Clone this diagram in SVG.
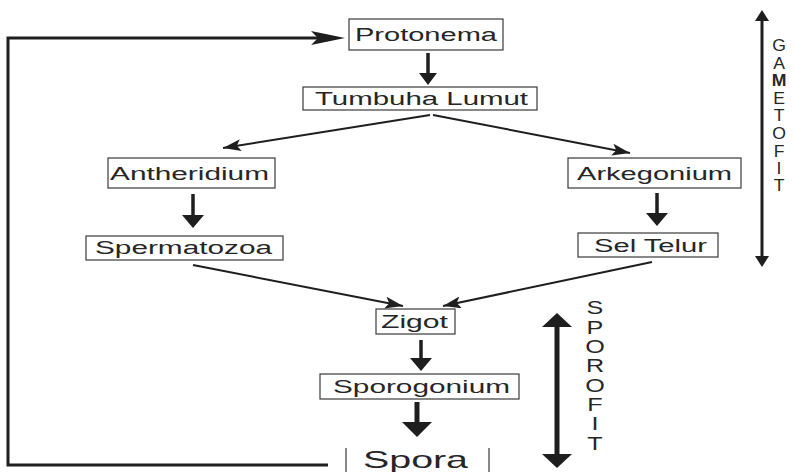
<svg xmlns="http://www.w3.org/2000/svg" width="794" height="472" viewBox="0 0 794 472">
<style>
.box{fill:#fff;stroke:#3a3a3a;stroke-width:1.2}
.t{font-family:"Liberation Sans",Arial,sans-serif;font-size:18px;fill:#262626}
.side{font-family:"Liberation Sans",Arial,sans-serif;fill:#262626;text-anchor:middle}
.ln{stroke:#1e1e1e;fill:none}
.hd{fill:#1e1e1e}
</style>
<defs>
<marker id="barb" viewBox="0 0 18 12" refX="18" refY="6" markerWidth="18" markerHeight="12" markerUnits="userSpaceOnUse" orient="auto">
<path d="M0,0 L18,6 L0,12 L4,6 z" fill="#1e1e1e"/>
</marker>
</defs>
<rect width="794" height="472" fill="#fff"/>

<g id="connectors">
<!-- loop back to Protonema -->
<path class="ln" stroke-width="3" d="M328,465 H8 V38 H318"/>
<polygon class="hd" points="345,38 311,31 318,38 311,45"/>
<!-- Protonema -> Tumbuha Lumut -->
<line class="ln" stroke-width="3.5" x1="428" y1="53" x2="428" y2="74"/>
<polygon class="hd" points="419,73 437,73 428,85"/>
<!-- Tumbuha -> Antheridium / Arkegonium -->
<line class="ln" stroke-width="2" x1="430" y1="115" x2="223" y2="148" marker-end="url(#barb)"/>
<line class="ln" stroke-width="2" x1="433" y1="115" x2="630" y2="153" marker-end="url(#barb)"/>
<!-- Antheridium -> Spermatozoa -->
<line class="ln" stroke-width="3.5" x1="193" y1="194" x2="193" y2="216"/>
<polygon class="hd" points="182,215 204,215 193,228"/>
<!-- Arkegonium -> Sel Telur -->
<line class="ln" stroke-width="3.5" x1="657" y1="193" x2="657" y2="214"/>
<polygon class="hd" points="646,213 668,213 657,226"/>
<!-- Spermatozoa / Sel Telur -> Zigot -->
<line class="ln" stroke-width="2" x1="193" y1="265" x2="403" y2="306" marker-end="url(#barb)"/>
<line class="ln" stroke-width="2" x1="652" y1="262" x2="443" y2="306" marker-end="url(#barb)"/>
<!-- Zigot -> Sporogonium -->
<line class="ln" stroke-width="3.5" x1="421" y1="340" x2="421" y2="359"/>
<polygon class="hd" points="410,358 432,358 421,371"/>
<!-- Sporogonium -> Spora -->
<line class="ln" stroke-width="5" x1="417" y1="402" x2="417" y2="424"/>
<polygon class="hd" points="402,422 432,422 417,437"/>
<!-- GAMETOFIT double arrow -->
<line class="ln" stroke-width="3" x1="762" y1="19" x2="762" y2="258"/>
<polygon class="hd" points="762,10 755,21 769,21"/>
<polygon class="hd" points="762,267 755,256 769,256"/>
<!-- SPOROFIT double arrow -->
<line class="ln" stroke-width="5" x1="557" y1="325" x2="557" y2="456"/>
<polygon class="hd" points="557,313 542,327 572,327"/>
<polygon class="hd" points="557,468 542,454 572,454"/>
</g>

<g id="protonema">
<rect class="box" x="349" y="19" width="154" height="31"/>
<text class="t" x="355" y="41" textLength="142" lengthAdjust="spacingAndGlyphs">Protonema</text>
</g>
<g id="tumbuha-lumut">
<rect class="box" x="303" y="87" width="234" height="23"/>
<text class="t" x="315" y="105" textLength="213" lengthAdjust="spacingAndGlyphs">Tumbuha Lumut</text>
</g>
<g id="antheridium">
<rect class="box" x="108" y="158" width="167" height="30"/>
<text class="t" x="110" y="179.5" textLength="159" lengthAdjust="spacingAndGlyphs">Antheridium</text>
</g>
<g id="arkegonium">
<rect class="box" x="568" y="158" width="173" height="30"/>
<text class="t" x="577" y="179.5" textLength="155" lengthAdjust="spacingAndGlyphs">Arkegonium</text>
</g>
<g id="spermatozoa">
<rect class="box" x="86" y="236" width="197" height="24"/>
<text class="t" x="95" y="254" textLength="177" lengthAdjust="spacingAndGlyphs">Spermatozoa</text>
</g>
<g id="sel-telur">
<rect class="box" x="578" y="233" width="140" height="24"/>
<text class="t" x="594" y="251.5" textLength="113" lengthAdjust="spacingAndGlyphs">Sel Telur</text>
</g>
<g id="zigot">
<rect class="box" x="376" y="309" width="79" height="25"/>
<text class="t" x="381" y="328" textLength="67" lengthAdjust="spacingAndGlyphs">Zigot</text>
</g>
<g id="sporogonium">
<rect class="box" x="320" y="374" width="199" height="25"/>
<text class="t" x="333" y="392.5" textLength="177" lengthAdjust="spacingAndGlyphs">Sporogonium</text>
</g>
<g id="spora">
<line stroke="#3a3a3a" stroke-width="1.2" x1="346" y1="448" x2="346" y2="472"/>
<line stroke="#3a3a3a" stroke-width="1.2" x1="489" y1="448" x2="489" y2="472"/>
<text class="t" x="363" y="468" font-size="24" style="font-size:24px" textLength="105" lengthAdjust="spacingAndGlyphs">Spora</text>
</g>

<g id="gametofit-label" class="side" font-size="16" transform="translate(779,0) scale(1.1,1)">
<text x="0" y="51">G</text>
<text x="0" y="68.6">A</text>
<text x="0" y="86.2" font-weight="bold">M</text>
<text x="0" y="103.8">E</text>
<text x="0" y="121.4">T</text>
<text x="0" y="139">O</text>
<text x="0" y="156.6">F</text>
<text x="0" y="174.2">I</text>
<text x="0" y="191.5">T</text>
</g>
<g id="sporofit-label" class="side" font-size="18" transform="translate(595,0) scale(1.4,1)">
<text x="0" y="314.5">S</text>
<text x="0" y="333.8">P</text>
<text x="0" y="353.1">O</text>
<text x="0" y="372.4">R</text>
<text x="0" y="391.7">O</text>
<text x="0" y="411">F</text>
<text x="0" y="430.3">I</text>
<text x="0" y="449.6">T</text>
</g>
</svg>
